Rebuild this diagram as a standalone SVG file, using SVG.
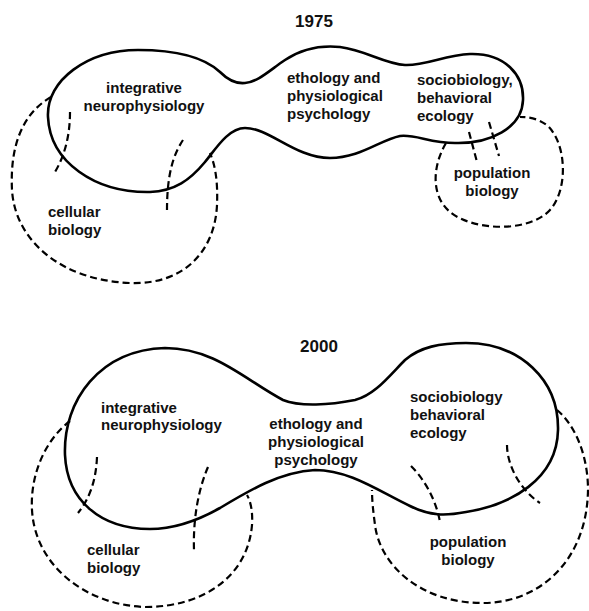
<svg xmlns="http://www.w3.org/2000/svg" width="589" height="611" viewBox="0 0 589 611">
<style>
.solid{fill:none;stroke:#000;stroke-width:2.6;stroke-linejoin:round;stroke-linecap:round}
.dash{fill:none;stroke:#000;stroke-width:2.2;stroke-dasharray:7 4}
text{font-family:"Liberation Sans",Arial,sans-serif;font-size:15px;font-weight:bold;fill:#111}
.title{font-size:17px}
.mid{text-anchor:middle}
</style>
<rect width="589" height="611" fill="#fff"/>
<g id="panel-1975">
<text class="title mid" x="314" y="27">1975</text>
<g id="main-1975">
<path class="solid" d="M48,117 C46,80 88,50 138,50 C178,50 205,58 220,72 C228,80 236,84 245,83 C258,82 270,70 285,60 C300,50 320,45 340,47 C365,50 385,64 405,65 C425,66 445,55 470,54 C505,53 524,75 523,100 C522,128 490,144 455,143 C430,143 415,134 400,136 C380,140 360,158 330,158 C295,158 270,128 245,128 C228,128 215,150 205,162 C190,180 175,191 150,192 C95,193 50,162 48,117 Z"/>
</g>
<g id="integrative-1975">
<text class="mid" x="144" y="93">integrative</text>
<text class="mid" x="144" y="111">neurophysiology</text>
</g>
<g id="ethology-1975">
<text x="287" y="83">ethology and</text>
<text x="287" y="101">physiological</text>
<text x="287" y="119">psychology</text>
</g>
<g id="sociobiology-1975">
<text x="417" y="85">sociobiology,</text>
<text x="417" y="103">behavioral</text>
<text x="417" y="121">ecology</text>
</g>
<g id="cellular-1975">
<path class="dash" d="M51,97 C20,115 10,150 12,190 C15,240 60,280 130,283 C185,285 215,250 217,205 C218,180 215,165 210,153"/>
<path class="dash" d="M70,112 C70,135 65,155 55,172"/>
<path class="dash" d="M183,140 C173,155 167,175 167,210"/>
<text x="48" y="217">cellular</text>
<text x="48" y="235">biology</text>
</g>
<g id="population-1975">
<path class="dash" d="M446,143 C433,165 430,195 450,212 C475,232 530,232 550,210 C568,190 567,145 548,126 C538,118 528,117 520,117"/>
<path class="dash" d="M469,132 L477,162"/>
<path class="dash" d="M489,122 L499,156"/>
<text class="mid" x="492" y="178">population</text>
<text class="mid" x="492" y="196">biology</text>
</g>
</g>
<g id="panel-2000">
<text class="title mid" x="319" y="352">2000</text>
<g id="main-2000">
<path class="solid" d="M65,455 C63,400 100,350 165,348 C215,348 245,380 283,400 C300,407 330,405 355,400 C375,395 390,375 405,360 C420,347 440,343 466,343 C520,343 559,380 558,430 C557,480 510,505 466,512 C445,516 430,516 410,506 C380,492 350,470 315,470 C280,472 250,490 220,508 C195,522 170,529 150,529 C100,529 67,500 65,455 Z"/>
</g>
<g id="integrative-2000">
<text x="101" y="413">integrative</text>
<text x="101" y="430">neurophysiology</text>
</g>
<g id="ethology-2000">
<text class="mid" x="316" y="429">ethology and</text>
<text class="mid" x="316" y="447">physiological</text>
<text class="mid" x="316" y="465">psychology</text>
</g>
<g id="sociobiology-2000">
<text x="410" y="402">sociobiology</text>
<text x="410" y="420">behavioral</text>
<text x="410" y="438">ecology</text>
</g>
<g id="cellular-2000">
<path class="dash" d="M70,421 C45,440 30,475 32,510 C35,565 85,605 145,607 C205,607 248,575 252,525 C253,510 250,500 247,495"/>
<path class="dash" d="M97,457 C96,480 90,498 78,513"/>
<path class="dash" d="M208,467 C198,490 193,520 194,550"/>
<text x="87" y="555">cellular</text>
<text x="87" y="573">biology</text>
</g>
<g id="population-2000">
<path class="dash" d="M557,410 C575,425 588,455 588,490 C587,560 540,603 483,603 C420,603 380,565 375,525 C373,510 372,500 372,490"/>
<path class="dash" d="M411,466 C425,480 436,500 440,522"/>
<path class="dash" d="M507,445 C507,465 520,490 540,503"/>
<text class="mid" x="468" y="547">population</text>
<text class="mid" x="468" y="565">biology</text>
</g>
</g>
</svg>
